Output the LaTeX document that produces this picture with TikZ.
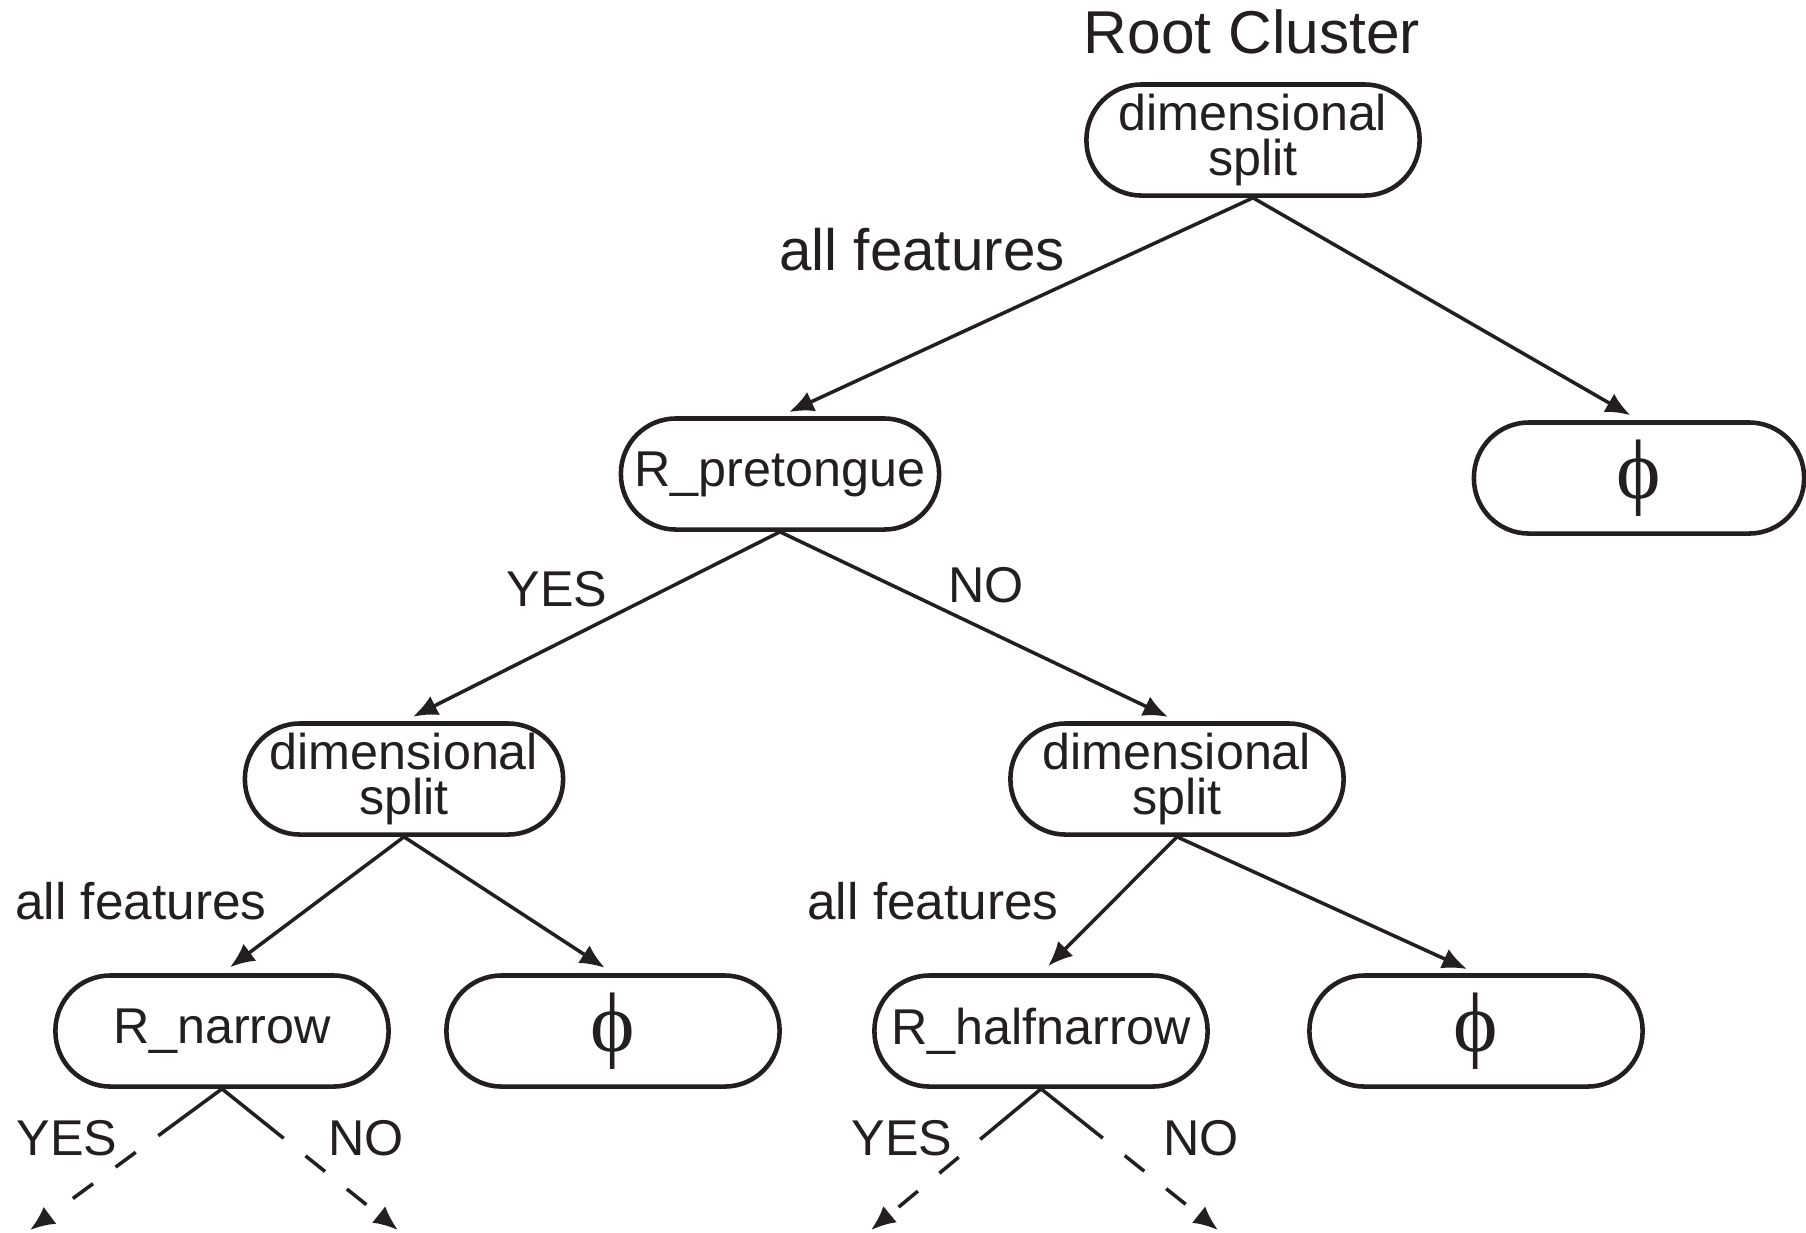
\documentclass[tikz,border=0pt]{standalone}
\usepackage{fontspec}
\setmainfont{Liberation Sans}
\newfontfamily\phifont{Liberation Serif}
\usetikzlibrary{arrows.meta}
\definecolor{ink}{RGB}{35,31,32}
\begin{document}
\begin{tikzpicture}[x=0.01cm, y=-0.01cm, >={Latex[length=7pt,width=6pt]}, line width=1pt, color=ink,
	box/.style={draw, line width=1.3pt, rounded corners=0.55cm, minimum width=3.33cm, minimum height=1.11cm, inner sep=0pt, align=center, font=\fontsize{14.3}{12.6}\selectfont},
	phibox/.style={box, font=\fontsize{24}{24}\selectfont\phifont},
	lab/.style={inner sep=0pt, font=\fontsize{14.3}{14.3}\selectfont},
	biglab/.style={inner sep=0pt, font=\fontsize{16.6}{16.6}\selectfont},
	link/.style={->, shorten >=0.1cm},
	branch/.style={->, dash pattern=on 0.79cm off 0.28cm on 0.25cm off 0.28cm on 0.25cm off 1cm}]
	\useasboundingbox (0,0) rectangle (1806,1232);
	
	% 1. 结点
	\node[biglab, font=\fontsize{17.2}{17.2}\selectfont] (title) at (1252,32) {Root Cluster};
	\node[box] (root) at (1253,140) {dimensional\\split};
	\node[box, minimum width=3.18cm] (pre) at (780,474) {R\_pretongue};
	\node[phibox, minimum width=3.30cm] (phitop) at (1639,478) {ϕ};
	\node[box, minimum width=3.18cm] (dsl) at (404,779) {dimensional\\split};
	\node[box] (dsr) at (1177,779) {dimensional\\split};
	\node[box] (narrow) at (222,1031) {R\_narrow};
	\node[phibox] (phil) at (613,1031) {ϕ};
	\node[box] (half) at (1041,1031) {R\_halfnarrow};
	\node[phibox] (phir) at (1476,1031) {ϕ};
	
	% 2. 标签
	\node[biglab] (allf) at (922,250) {all features};
	\node[lab] (preyes) at (557,589) {YES};
	\node[lab] (preno) at (986,585) {NO};
	\node[lab, font=\fontsize{14.6}{14.6}\selectfont] (allfl) at (141,901) {all features};
	\node[lab, font=\fontsize{14.6}{14.6}\selectfont] (allfr) at (933,901) {all features};
	\node[lab] (nyes) at (67,1138) {YES};
	\node[lab] (nno) at (366,1138) {NO};
	\node[lab] (hyes) at (902,1138) {YES};
	\node[lab] (hno) at (1201,1138) {NO};
	
	% 3. 连线
	\draw[link] (root.south) -- (pre.north);
	\draw[link] (root.south) -- (phitop.north);
	\draw[link] (pre.south) -- (dsl.north);
	\draw[link] (pre.south) -- (dsr.north);
	\draw[link] (dsl.south) -- (narrow.north);
	\draw[link] (dsl.south) -- (phil.north);
	\draw[link] (dsr.south) -- (half.north);
	\draw[link] (dsr.south) -- (phir.north);
	
	% 4. 虚线分支
	\coordinate (ny) at (30,1230);
	\coordinate (nn) at (398,1230);
	\coordinate (hy) at (871,1230);
	\coordinate (hn) at (1218,1230);
	\draw[branch] (narrow.south) -- (ny);
	\draw[branch] (narrow.south) -- (nn);
	\draw[branch] (half.south) -- (hy);
	\draw[branch] (half.south) -- (hn);
\end{tikzpicture}
\end{document}
